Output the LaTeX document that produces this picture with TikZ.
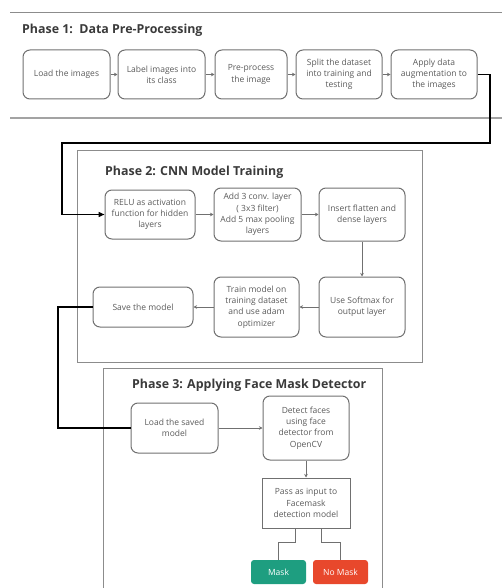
\documentclass[tikz,border=0pt]{standalone}
\usepackage{fontspec}
\setmainfont{Open Sans}
\usetikzlibrary{arrows.meta,calc}
\definecolor{boxline}{HTML}{707070}
\definecolor{boxtext}{HTML}{5A5A5A}
\definecolor{titletext}{HTML}{3A3A3A}
\definecolor{phaseline}{HTML}{8C8C8C}
\definecolor{maskgreen}{HTML}{1E9E80}
\definecolor{maskred}{HTML}{E8482C}
\tikzset{
  stepbox/.style={draw=boxline, line width=1pt, rounded corners=7pt, align=center,
    text=boxtext, font=\fontsize{8.5}{11.2}\selectfont, inner sep=1pt},
  sqbox/.style={draw=boxline, line width=1pt, align=center,
    text=boxtext, font=\fontsize{8.5}{11.2}\selectfont, inner sep=1pt},
  tagbox/.style={rounded corners=3pt, text=white, font=\fontsize{8.5}{9}\selectfont,
    minimum width=55pt, minimum height=24pt, inner sep=0pt},
  phasetitle/.style={anchor=west, text=titletext, font=\fontsize{12.4}{14}\selectfont\bfseries, inner sep=0pt},
  flow/.style={draw=boxline, line width=0.7pt, -{Stealth[length=3.5pt,width=3.5pt]}},
  plain/.style={draw=boxline, line width=0.6pt},
  bigflow/.style={draw=black, line width=1.4pt},
  phasebox/.style={draw=phaseline, line width=0.9pt}
}
\begin{document}
\begin{tikzpicture}[x=1pt,y=-1pt]
\useasboundingbox (0,0) rectangle (502,588);
% Phase 1 band
\draw[phasebox] (10,12) -- (502,12);
\draw[draw=phaseline!80, line width=1.8pt] (10,118) -- (502,118);
\node[phasetitle] (t1) at (22,30) {Phase 1:\ \ Data Pre-Processing};
\node[stepbox, minimum width=87pt, minimum height=49pt] (b1) at (66.5,74.5) {Load the images};
\node[stepbox, minimum width=87pt, minimum height=49pt] (b2) at (161.5,74.5) {Label images into\\its class};
\node[stepbox, minimum width=72pt, minimum height=49pt] (b3) at (251,74.5) {Pre-process\\the image};
\node[stepbox, minimum width=86pt, minimum height=49pt] (b4) at (339,74.5) {Split the dataset\\into training and\\testing};
\node[stepbox, minimum width=86pt, minimum height=49pt] (b5) at (434,74.5) {Apply data\\augmentation to\\the images};
\draw[flow] (b1) -- (b2);
\draw[flow] (b2) -- (b3);
\draw[flow] (b3) -- (b4);
\draw[flow] (b4) -- (b5);

% Phase 2
\draw[phasebox] (77,150) rectangle (422,362);
\node[phasetitle] (t2) at (105,172) {Phase 2: CNN Model Training};
\node[stepbox, minimum width=90pt, minimum height=49pt] (relu) at (150,214.5) {RELU as activation\\function for hidden\\layers};
\node[stepbox, minimum width=87pt, minimum height=53pt] (conv) at (257.5,214.5) {Add 3 conv. layer\\( 3x3 filter)\\Add 5 max pooling\\layers};
\node[stepbox, minimum width=86pt, minimum height=53pt] (dense) at (362,214.5) {Insert flatten and\\dense layers};
\node[stepbox, minimum width=86pt, minimum height=60pt] (soft) at (362,307) {Use Softmax for\\output layer};
\node[stepbox, minimum width=85pt, minimum height=60pt] (train) at (256.5,307) {Train model on\\training dataset\\and use adam\\optimizer};
\node[stepbox, minimum width=100pt, minimum height=40pt] (save) at (143,307) {Save the model};
\draw[flow] (relu) -- (conv);
\draw[flow] (conv) -- (dense);
\draw[flow] (dense) -- (soft);
\draw[flow] (soft) -- (train);
\draw[flow] (train) -- (save);

% Phase 3
\draw[phasebox] (103,592) -- (103,368) -- (382,368) -- (382,592);
\node[phasetitle] (t3) at (132,385) {Phase 3: Applying Face Mask Detector};
\node[stepbox, minimum width=87pt, minimum height=50pt] (load) at (174.5,428) {Load the saved\\model};
\node[stepbox, minimum width=86pt, minimum height=64pt] (detect) at (306,428) {Detect faces\\using face\\detector from\\OpenCV};
\node[sqbox, minimum width=88pt, minimum height=50pt] (pass) at (306,503) {Pass as input to\\Facemask\\detection model};
\node[tagbox, fill=maskgreen] (mask) at (278.5,572) {Mask};
\node[tagbox, fill=maskred] (nomask) at (340.5,572) {No Mask};
\draw[flow] (load) -- (detect);
\draw[flow] (detect) -- (pass);
\draw[plain] ([xshift=-11pt]pass.south) -- ++(0,14) -| (mask.north);
\draw[plain] ([xshift=15pt]pass.south) -- ++(0,14) -| (nomask.north);

% Phase connectors
\coordinate (c1) at (490,143);
\coordinate (c2) at (62,143);
\draw[bigflow, -{Triangle[length=6pt,width=5pt]}] (b5.east) -- (b5.east -| c1) -- (c1) -- (c2) |- (relu.west);
\coordinate (c3) at (58,307);
\draw[bigflow] (save.west) -- (c3) |- (load.west);
\end{tikzpicture}
\end{document}
